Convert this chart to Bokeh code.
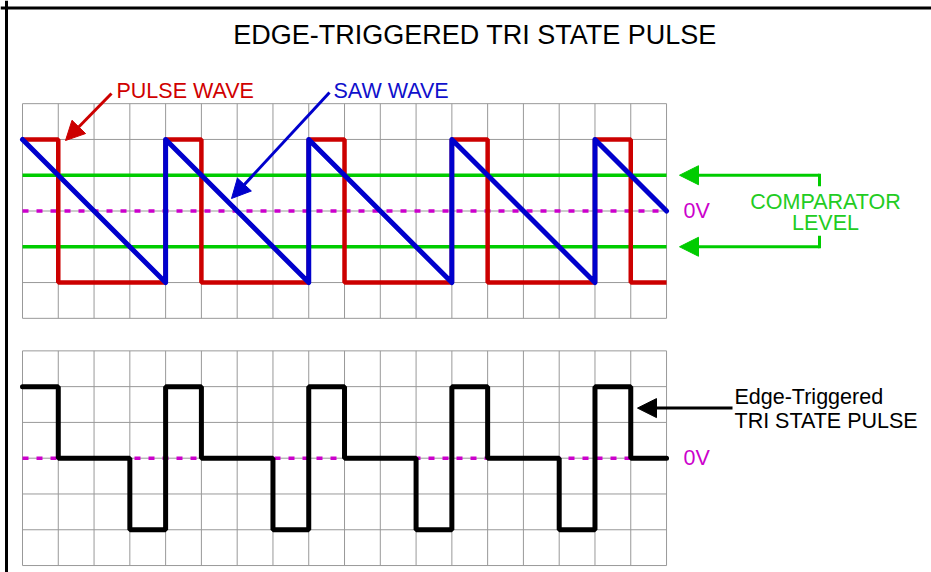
import numpy as np
from bokeh.plotting import figure
from bokeh.models import Label, Arrow, NormalHead, Span
from bokeh.embed import file_html
from bokeh.resources import INLINE

# ---------------- data ----------------
cells_x = list(range(19))                       # time grid 0..18
pulse_levels = [2, -2, -2, -2, 2, -2, -2, -2, 2, -2, -2, -2, 2, -2, -2, -2, 2, -2, -2]
tri_levels = [2, 0, 0, -2, 2, 0, 0, -2, 2, 0, 0, -2, 2, 0, 0, -2, 2, 0, 0]
saw_x = [0, 4, 4, 8, 8, 12, 12, 16, 16, 18]
saw_y = [2, -2, 2, -2, 2, -2, 2, -2, 2, 0]
comparator_levels = [1, -1]
zero_level = 0
grid_rows = list(range(-3, 4))

# ---------------- layout ----------------
W, H = 931, 572
C = 35.78                      # pixels per grid cell
X0, Y0 = 22.0, 210.5           # pixel position of (0, 0V) of the upper panel
x_start = -X0 / C
x_end = x_start + W / C
y_top = Y0 / C
y_bot = y_top - H / C
BOT = -(457.7 - Y0) / C        # vertical offset of the lower panel

def ix(px):
    return (px - X0) / C

def iy(py):
    return (Y0 - py) / C

FONT = "Liberation Sans"
RED, BLUE, GREEN, MAG = "#CC0000", "#0000CC", "#00CC00", "#CC00CC"
GRID = "#999999"

p = figure(width=W, height=H, x_range=(x_start, x_end), y_range=(y_bot, y_top),
           output_backend="svg", toolbar_location=None, min_border=0,
           x_axis_location=None, y_axis_location=None)
p.grid.visible = False
p.outline_line_color = None
p.background_fill_color = "white"

# ---- grids for both panels ----
xs = np.array(cells_x, dtype=float)
rows = np.array(grid_rows, dtype=float)
for off in (0.0, BOT):
    p.segment(x0=xs, y0=rows[0] + off, x1=xs, y1=rows[-1] + off,
              line_color=GRID, line_width=1)
    p.segment(x0=xs[0], y0=rows + off, x1=xs[-1], y1=rows + off,
              line_color=GRID, line_width=1)

# ---- top panel ----
p.line([cells_x[0], cells_x[-1]], [zero_level, zero_level], line_color=MAG,
       line_width=3.5, line_dash="6 8")
for lvl in comparator_levels:
    p.line([cells_x[0], cells_x[-1]], [lvl, lvl], line_color=GREEN, line_width=3.5)
p.step(x=cells_x, y=pulse_levels, mode="after", line_color=RED, line_width=4.5)
p.line(saw_x, saw_y, line_color=BLUE, line_width=5, line_cap="round", line_join="round")

# ---- bottom panel ----
p.line([cells_x[0], cells_x[-1]], [zero_level + BOT] * 2, line_color=MAG,
       line_width=3.5, line_dash="6 8")
p.step(x=cells_x, y=np.array(tri_levels, dtype=float) + BOT, mode="after",
       line_color="black", line_width=5, line_cap="round")

# ---- outer border (left & top) ----
p.add_layout(Span(location=ix(6), dimension="height",
                  line_color="black", line_width=3))
p.add_layout(Span(location=iy(7.5), dimension="width",
                  line_color="black", line_width=3))

# ---- texts ----
def lab(x, y, text, color, size=21.5, align="left"):
    y = y + 0.37 * size / C     # compensate baseline placement
    p.add_layout(Label(x=x, y=y, text=text, text_color=color, text_font=FONT,
                       text_font_size=f"{size}px", text_align=align,
                       text_baseline="alphabetic"))

lab(ix(474.5), iy(44), "EDGE-TRIGGERED TRI STATE PULSE", "black", size=27, align="center")
lab(ix(116), iy(98), "PULSE WAVE", "#D00000")
lab(ix(333), iy(98), "SAW WAVE", "#1010CC")
lab(ix(683), zero_level - 7.5 / C, "0V", MAG)
lab(ix(683), zero_level + BOT - 7.5 / C, "0V", MAG)
lab(ix(825), iy(209), "COMPARATOR", "#22CC22", align="center")
lab(ix(825), iy(230.5), "LEVEL", "#22CC22", align="center")
lab(ix(734), BOT + 1.50, "Edge-Triggered", "black")
lab(ix(734), BOT + 0.83, "TRI STATE PULSE", "black")

# ---- arrows ----
def arrow(x0, y0, x1, y1, color, size=19):
    p.add_layout(Arrow(end=NormalHead(size=size, fill_color=color, line_color=color,
                                      line_width=1),
                       x_start=x0, y_start=y0, x_end=x1, y_end=y1,
                       line_color=color, line_width=3))

arrow(ix(111), iy(93), ix(65), iy(140), RED)
arrow(ix(329), iy(92), ix(231), iy(198), BLUE)
for lvl in comparator_levels:
    sgn = 1 if lvl > 0 else -1
    arrow(ix(819), lvl, ix(679), lvl, GREEN)
    p.line([ix(819), ix(819)], [lvl, lvl - sgn * 9.5 / C], line_color=GREEN,
           line_width=3, line_cap="square")
arrow(ix(732), BOT + 1.40, ix(637), BOT + 1.40, "black")

open("out.html", "w").write(file_html(p, INLINE))
